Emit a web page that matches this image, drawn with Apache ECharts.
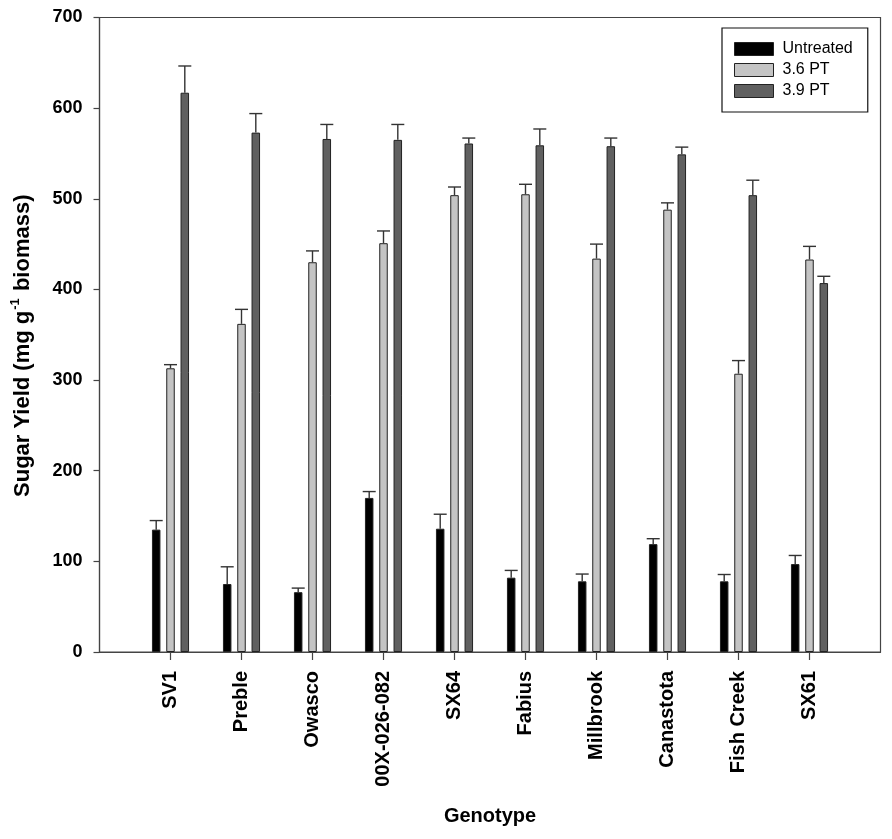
<!DOCTYPE html>
<html>
<head>
<meta charset="utf-8">
<script src="https://cdn.jsdelivr.net/npm/echarts@6/dist/echarts.min.js"></script>
<style>
  html, body { margin: 0; padding: 0; background: #fff; }
  #chart { width: 892px; height: 839px; }
</style>
</head>
<body>
<div id="chart"></div>
<script>
var categories = ['SV1', 'Preble', 'Owasco', '00X-026-082', 'SX64', 'Fabius', 'Millbrook', 'Canastota', 'Fish Creek', 'SX61'];
var seriesNames = ['Untreated', '3.6 PT', '3.9 PT'];
var untreated    = [135, 75, 66, 170, 136, 82, 78, 119, 78, 97];
var untreatedErr = [10, 19, 4.5, 7, 16, 8, 8, 6, 7.5, 9.5];
var pt36         = [313, 362, 430, 451, 504, 505, 434, 488, 307, 433];
var pt36Err      = [4, 16, 12.5, 13.5, 9, 11, 16, 7.5, 14.5, 14.5];
var pt39         = [617, 573, 566, 565, 561, 559, 558, 549, 504, 407];
var pt39Err      = [29.5, 21, 16, 17, 6, 18, 9, 8, 16.5, 7.5];
var yTicks = [0, 100, 200, 300, 400, 500, 600, 700];

var FONT = '"Liberation Sans", Arial, Helvetica, sans-serif';
var colors = ['#000000', '#c4c4c4', '#606060'];
var BAR_W = 8.5;
var GAP_PX = 5.8;
var values = [untreated, pt36, pt39];
var errs = [untreatedErr, pt36Err, pt39Err];
var positions = categories.map(function (c, i) { return i + 1; });

var series = [];
values.forEach(function (vals, s) {
  series.push({
    name: seriesNames[s],
    type: 'bar',
    barWidth: BAR_W,
    barGap: (GAP_PX / BAR_W * 100) + '%',
    itemStyle: { color: colors[s], borderColor: '#222', borderWidth: 1 },
    data: vals.map(function (v, i) { return [positions[i], v]; }),
    z: 2
  });
});
values.forEach(function (vals, s) {
  var offset = (s - 1) * (BAR_W + GAP_PX);
  series.push({
    name: 'err' + s,
    type: 'custom',
    z: 3,
    encode: { x: 0, y: 1 },
    data: vals.map(function (v, i) { return [positions[i], v, errs[s][i]]; }),
    renderItem: function (params, api) {
      var x = api.value(0), v = api.value(1), e = api.value(2);
      var p0 = api.coord([x, v]);
      var p1 = api.coord([x, v + e]);
      var cx = p0[0] + offset;
      var half = 6.5;
      return {
        type: 'group',
        children: [
          { type: 'line', shape: { x1: cx, y1: p0[1], x2: cx, y2: p1[1] }, style: { stroke: '#333', lineWidth: 1.4 } },
          { type: 'line', shape: { x1: cx - half, y1: p1[1], x2: cx + half, y2: p1[1] }, style: { stroke: '#333', lineWidth: 1.4 } }
        ]
      };
    }
  });
});

var chart = echarts.init(document.getElementById('chart'));
chart.setOption({
  animation: false,
  backgroundColor: '#fff',
  grid: {
    left: 99.5, right: 11.5, top: 17.5, bottom: 187,
    show: true, borderColor: '#444', borderWidth: 1.2, backgroundColor: 'transparent'
  },
  legend: {
    data: seriesNames,
    orient: 'vertical',
    left: 722, top: 28,
    padding: [13, 15, 13, 12],
    itemWidth: 39, itemHeight: 13, itemGap: 5,
    borderColor: '#111', borderWidth: 1.2,
    icon: 'rect',
    itemStyle: { borderColor: '#222', borderWidth: 1 },
    textStyle: { fontFamily: FONT, fontSize: 16, color: '#000', padding: [0, 0, 0, 4] }
  },
  xAxis: {
    type: 'value',
    min: 0, max: 11, interval: 1,
    name: 'Genotype',
    nameLocation: 'middle',
    nameGap: 154,
    nameTextStyle: { fontFamily: FONT, fontSize: 20, fontWeight: 'bold', color: '#000' },
    axisLine: { show: true, lineStyle: { color: '#444', width: 1.2 } },
    axisTick: { show: true, inside: false, length: 8, customValues: positions, lineStyle: { color: '#444', width: 1.2 } },
    splitLine: { show: false },
    axisLabel: {
      customValues: positions,
      rotate: 90,
      margin: 19,
      fontFamily: FONT, fontSize: 20, fontWeight: 'bold', color: '#000',
      formatter: function (v) { return categories[Math.round(v) - 1] || ''; }
    }
  },
  yAxis: {
    type: 'value',
    min: 0, max: 700, interval: 100,
    name: '{a|Sugar Yield (mg g}{sup|-1}{a| biomass)}',
    nameLocation: 'middle',
    nameGap: 66,
    nameRotate: 90,
    nameTextStyle: {
      fontFamily: FONT, fontSize: 22, fontWeight: 'bold', color: '#000',
      padding: [0, 22, 0, 0],
      rich: {
        a: { fontFamily: FONT, fontSize: 22, fontWeight: 'bold', color: '#000', lineHeight: 25, verticalAlign: 'bottom' },
        sup: { fontFamily: FONT, fontSize: 13, fontWeight: 'bold', color: '#000', lineHeight: 25, verticalAlign: 'top', padding: [0, 1, 11, 1] }
      }
    },
    axisLine: { show: true, lineStyle: { color: '#444', width: 1.2 } },
    axisTick: { show: true, inside: false, length: 6, lineStyle: { color: '#444', width: 1.2 } },
    splitLine: { show: false },
    axisLabel: {
      margin: 17,
      fontFamily: FONT, fontSize: 18, fontWeight: 'bold', color: '#000',
      formatter: function (v) { return yTicks.indexOf(v) >= 0 ? String(v) : ''; }
    }
  },
  series: series
});
</script>
</body>
</html>
